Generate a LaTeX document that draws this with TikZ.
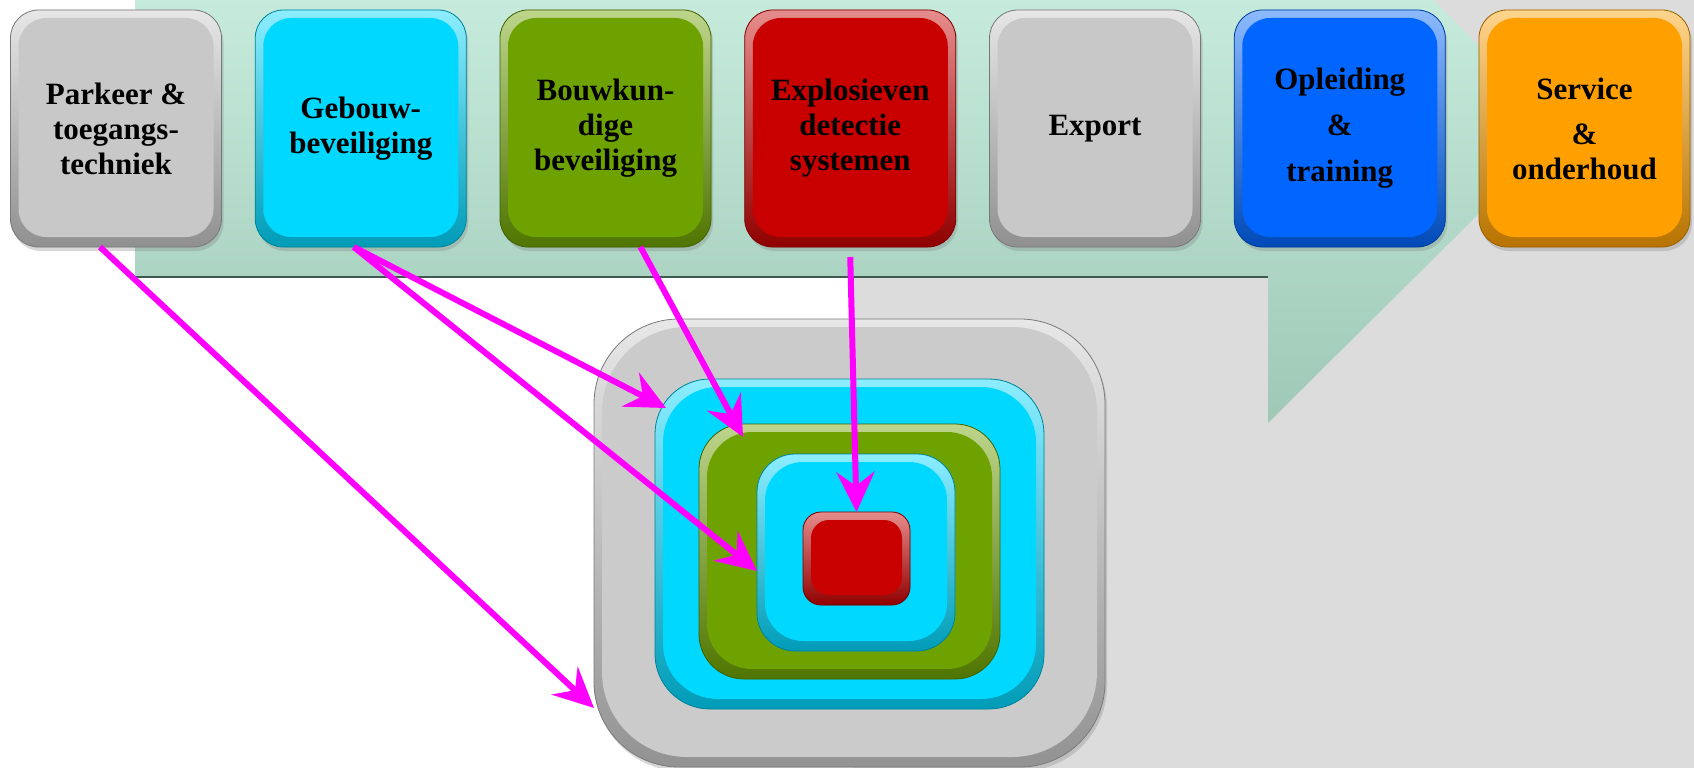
\documentclass[tikz,border=0pt]{standalone}
\usepackage{fontspec}
\setmainfont{Liberation Serif}
\usepackage{tikz}
\usetikzlibrary{arrows.meta, shadows}
\definecolor{grijs}{HTML}{C8C8C8}
\definecolor{cyaan}{HTML}{00D8FF}
\definecolor{groen}{HTML}{6EA200}
\definecolor{rood}{HTML}{C80000}
\definecolor{blauw}{HTML}{0066FF}
\definecolor{oranje}{HTML}{FFA000}
\definecolor{roze}{HTML}{FF00FF}
\definecolor{vlak}{HTML}{DCDCDC}
\definecolor{schilgrijs}{HTML}{CBCBCB}
\definecolor{banierboven}{HTML}{C6EBDC}
\definecolor{banieronder}{HTML}{9FC8B6}
\definecolor{banierlijn}{HTML}{3E5A50}
\tikzset{
  tegel/.style 2 args={rounded corners=#2, fill=#1, draw=#1!60!black, line width=0.8pt,
    inner sep=0pt, outer sep=0pt,
    path picture={
      \shade[top color=#1!45!white, bottom color=#1!72!black]
        (path picture bounding box.south west) rectangle (path picture bounding box.north east);
      \fill[#1, rounded corners=#2]
        ([shift={(8pt,10pt)}]path picture bounding box.south west) rectangle
        ([shift={(-8pt,-8pt)}]path picture bounding box.north east);
    }},
  schaduw/.style={drop shadow={shadow xshift=2pt, shadow yshift=-4pt, opacity=0.3, path picture={}}},
  blok/.style={tegel={#1}{28pt}, schaduw, minimum width=211pt, minimum height=237pt,
    align=center, font=\fontsize{31}{35}\selectfont\bfseries},
  pijl/.style={draw=roze, line width=6pt, ->},
  >={Stealth[length=40pt, width=38pt, inset=14pt]},
}
\begin{document}
\begin{tikzpicture}[x=1pt, y=-1pt]
\useasboundingbox (0,0) rectangle (1694,768);
\fill[white] (0,0) rectangle (1694,768);
\fill[vlak] (853,0) rectangle (1694,768);
\shade[top color=banierboven, bottom color=banieronder] (135,0) -- (1433,0) -- (1563,130) -- (1268,423) -- (1268,277) -- (135,277) -- cycle;
\draw[banierlijn, line width=1.5pt] (135,277) -- (1268,277);

\node[blok=grijs] (parkeer) at (116,128.5) {Parkeer \&\\toegangs-\\techniek};
\node[blok=cyaan] (gebouw) at (360.75,128.5) {Gebouw-\\beveiliging};
\node[blok=groen] (bouwkunde) at (605.5,128.5) {Bouwkun-\\dige\\beveiliging};
\node[blok=rood] (explosief) at (850.25,128.5) {Explosieven\\detectie\\systemen};
\node[blok=grijs] (export) at (1095,128.5) {Export};
\node[blok=blauw] (opleiding) at (1339.75,128.5) {Opleiding\\[11pt]\&\\[11pt]training};
\node[blok=oranje] (service) at (1584.5,128.5) {Service\\[10pt]\&\\onderhoud};

\node[tegel={schilgrijs}{85pt}, schaduw, minimum width=511pt, minimum height=448pt] (schil) at (849.5,543) {};
\node[tegel={cyaan}{55pt}, minimum width=389pt, minimum height=330pt] (ring) at (849.5,544) {};
\node[tegel={groen}{45pt}, minimum width=301pt, minimum height=255pt] (bouw) at (849.5,551.5) {};
\node[tegel={cyaan}{38pt}, minimum width=198pt, minimum height=197pt] (binnen) at (856,552.5) {};
\node[tegel={rood}{18pt}, minimum width=107pt, minimum height=93pt] (kern) at (856.5,558.5) {};

\draw[pijl] ([xshift=-16pt]parkeer.south) -- ([yshift=-165pt]schil.west);
\draw[pijl] ([xshift=-7pt]gebouw.south) -- ([shift={(11pt,-29pt)}]ring.north west);
\draw[pijl] ([xshift=-7pt]gebouw.south) -- ([yshift=-18.5pt]binnen.west);
\draw[pijl] ([xshift=35pt]bouwkunde.south) -- ([shift={(44pt,-13pt)}]bouw.north west);
\draw[pijl] ([yshift=-10pt]explosief.south) -- (kern.north);
\end{tikzpicture}
\end{document}
